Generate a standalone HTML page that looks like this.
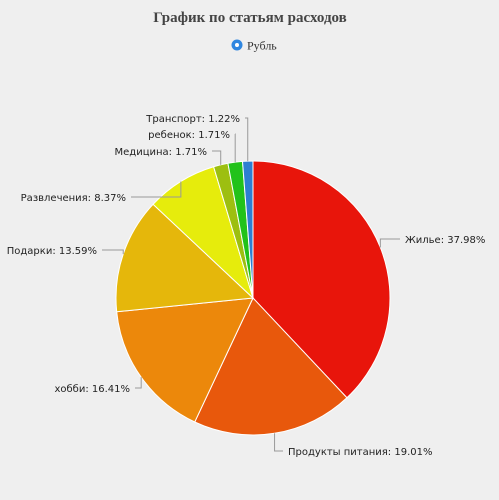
<!DOCTYPE html>
<html><head><meta charset="utf-8"><style>
body{margin:0;background:#efefef;}
svg{display:block;font-family:"DejaVu Sans","Liberation Sans",sans-serif;}
</style></head><body>
<svg id="c" width="499" height="500">
<rect width="499" height="500" fill="#efefef"/>
<text x="250" y="22" text-anchor="middle" font-family="'Liberation Serif',serif" font-weight="bold" font-size="15" fill="#444">График по статьям расходов</text>
<g>
<circle cx="237" cy="45" r="5.5" fill="#2f86e0"/><circle cx="237" cy="45" r="2" fill="#fff"/>
<text x="247" y="49.5" font-family="'Liberation Serif',serif" font-size="12" fill="#333">Рубль</text>
</g>
<g id="slices"></g><g id="labels"></g>
</svg>
<script>
const categories=["Жилье","Продукты питания","хобби","Подарки","Развлечения","Медицина","ребенок","Транспорт"];
const values=[37.98,19.01,16.41,13.59,8.37,1.71,1.71,1.22];
const colors=["#e8150b","#e8580c","#ec880b","#e5b70b","#e6ec0c","#9dbf10","#22c21a","#2d7fd2"];
// label layout (text anchor x,y and side)
const labelPos=[[405,243,"start"],[288,455,"start"],[130,392,"end"],[97,254,"end"],[126,201,"end"],[207,155,"end"],[230,138,"end"],[240,122,"end"]];
const cx=253,cy=298,r=137,NS="http://www.w3.org/2000/svg";
const total=values.reduce((a,b)=>a+b,0);
let a0=-Math.PI/2;
const gs=document.getElementById("slices"),gl=document.getElementById("labels");
values.forEach((v,i)=>{
 const a1=a0+v/total*2*Math.PI;
 const x0=cx+r*Math.cos(a0),y0=cy+r*Math.sin(a0),x1=cx+r*Math.cos(a1),y1=cy+r*Math.sin(a1);
 const p=document.createElementNS(NS,"path");
 p.setAttribute("d",`M${cx},${cy}L${x0},${y0}A${r},${r} 0 ${a1-a0>Math.PI?1:0} 1 ${x1},${y1}Z`);
 p.setAttribute("fill",colors[i]);p.setAttribute("stroke","#fff");p.setAttribute("stroke-width","1");
 
 
 gs.appendChild(p);
 const am=(a0+a1)/2,ex=cx+r*Math.cos(am),ey=cy+r*Math.sin(am);
 const [lx,ly,anc]=labelPos[i];
 const hx=anc==="start"?lx-5:lx+5,hy=ly-4;
 const l=document.createElementNS(NS,"polyline");
 const mx=Math.abs(ey-hy)<8?ex:ex;
 l.setAttribute("points",`${ex},${ey} ${mx},${hy} ${hx},${hy}`);
 l.setAttribute("fill","none");l.setAttribute("stroke","#999");l.setAttribute("stroke-width","1");
 
 
 gl.appendChild(l);
 const t=document.createElementNS(NS,"text");
 t.setAttribute("x",lx);t.setAttribute("y",ly);t.setAttribute("text-anchor",anc);
 t.setAttribute("font-size","10");t.setAttribute("fill","#222");
 t.textContent=categories[i]+": "+values[i].toFixed(2)+"%";
 
 
 gl.appendChild(t);
 a0=a1;
});
</script>
</body></html>
